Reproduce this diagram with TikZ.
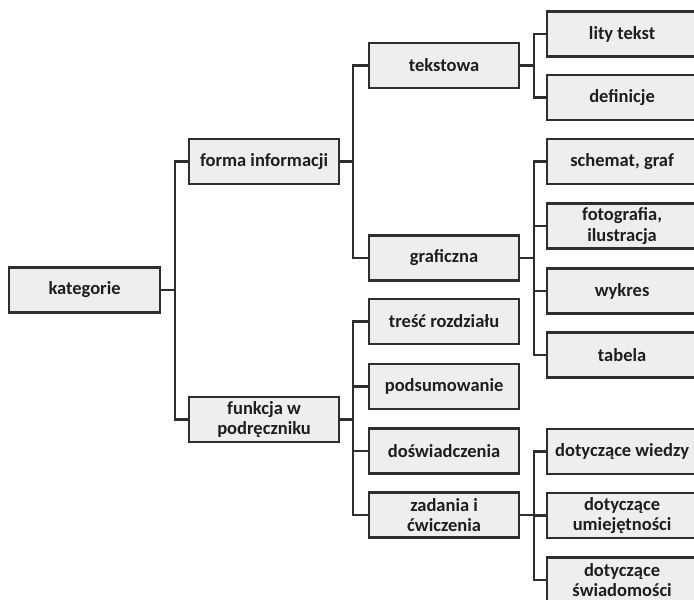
\documentclass[tikz,border=0pt]{standalone}
\usepackage{fontspec}
\setmainfont{Carlito}
\begin{document}
\begin{tikzpicture}[x=1pt,y=-1pt,
  box/.style={draw=boxline,fill=boxfill,line width=2.2pt,minimum width=150pt,minimum height=45pt,
    align=center,inner sep=2pt,anchor=west,font=\bfseries\fontsize{18.5}{20.5}\selectfont,text=textc},
  conn/.style={draw=boxline,line width=2.2pt}]
\definecolor{boxline}{HTML}{2E2E2E}
\definecolor{boxfill}{HTML}{EEEEEE}
\definecolor{textc}{HTML}{1E1E1E}
\useasboundingbox (0,0) rectangle (694,600);
\clip (0,0) rectangle (694,600);
% level 0
\node[box,minimum width=151pt] (kat) at (8,290) {kategorie};
% level 1
\node[box] (forma) at (188,161.5) {forma informacji};
\node[box] (funk) at (188,419.5) {funkcja w\\podręczniku};
% level 2
\node[box] (tekst) at (368,65.5) {tekstowa};
\node[box] (graf) at (368,258) {graficzna};
\node[box] (tresc) at (368,321.5) {treść rozdziału};
\node[box] (pods) at (368,386.5) {podsumowanie};
\node[box] (dosw) at (368,451) {doświadczenia};
\node[box] (zad) at (368,515) {zadania i\\ćwiczenia};
% level 3
\node[box] (lity) at (546,34) {lity tekst};
\node[box] (defi) at (546,97.5) {definicje};
\node[box] (schem) at (546,161.5) {schemat, graf};
\node[box] (foto) at (546,226) {fotografia,\\ilustracja};
\node[box] (wykr) at (546,291) {wykres};
\node[box] (tab) at (546,355) {tabela};
\node[box] (wied) at (546,451.5) {dotyczące wiedzy};
\node[box] (umie) at (546,515.5) {dotyczące\\umiejętności};
\node[box] (swia) at (546,580) {dotyczące\\świadomości};
% connectors
\foreach \c in {forma,funk}
  \draw[conn] (kat.east) -- ++(14,0) |- (\c.west);
\foreach \c in {tekst,graf}
  \draw[conn] (forma.east) -- ++(13,0) |- (\c.west);
\foreach \c in {tresc,pods,dosw,zad}
  \draw[conn] (funk.east) -- ++(13,0) |- (\c.west);
\foreach \c in {lity,defi}
  \draw[conn] (tekst.east) -- ++(14,0) |- (\c.west);
\foreach \c in {schem,foto,wykr,tab}
  \draw[conn] (graf.east) -- ++(14,0) |- (\c.west);
\foreach \c in {wied,umie,swia}
  \draw[conn] (zad.east) -- ++(14,0) |- (\c.west);
\end{tikzpicture}
\end{document}
